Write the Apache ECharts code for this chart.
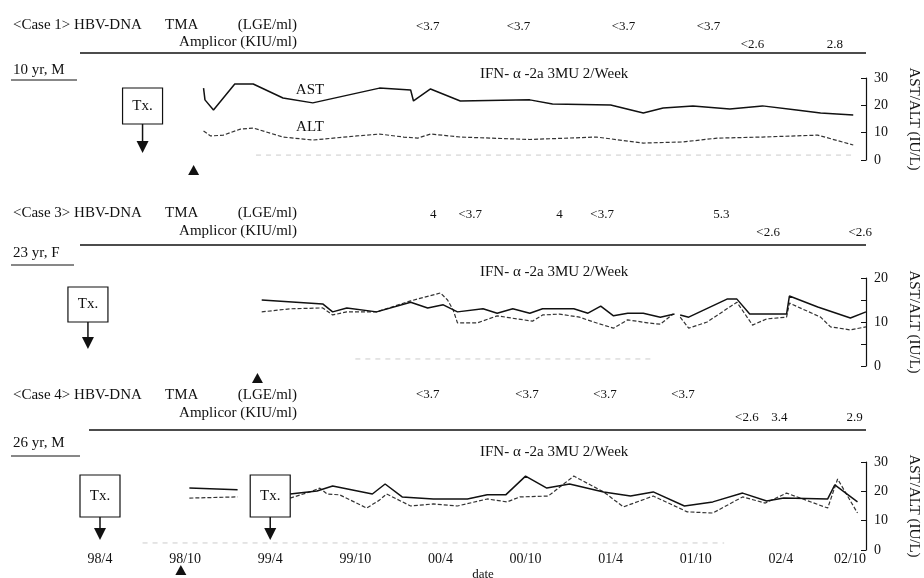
<!DOCTYPE html>
<html>
<head>
<meta charset="utf-8">
<script src="https://cdn.jsdelivr.net/npm/echarts@6/dist/echarts.min.js"></script>
<style>
  html, body { margin: 0; background: #fff; }
  #chart { width: 924px; height: 578px; }
</style>
</head>
<body>
<div id="chart"></div>
<script>
// months counted from 98/4
const xTicks = ['98/4', '98/10', '99/4', '99/10', '00/4', '00/10', '01/4', '01/10', '02/4', '02/10'];

// Case 1
const case1Ast = [[7.3, 26.3], [7.4, 22.0], [8.0, 18.3], [9.5, 27.8], [10.8, 27.8], [12.9, 22.7], [15.0, 20.9],
  [19.7, 26.3], [21.9, 25.6], [22.1, 21.6], [23.3, 26.0], [25.4, 21.6], [30.3, 22.0], [31.9, 20.5], [36.0, 20.1],
  [38.3, 17.2], [39.7, 19.0], [41.8, 19.8], [44.4, 18.7], [46.7, 19.8], [49.1, 18.3], [50.8, 17.2], [53.1, 16.5]];
const case1Alt = [[7.3, 10.6], [7.8, 8.8], [8.7, 9.1], [9.9, 11.3], [10.8, 11.7], [12.9, 8.4], [15.0, 7.3],
  [18.1, 8.8], [19.7, 9.5], [21.4, 8.4], [22.4, 8.0], [23.3, 9.5], [25.4, 8.4], [30.3, 7.5], [35.0, 8.4],
  [38.3, 6.2], [41.1, 6.6], [43.5, 8.0], [46.7, 8.4], [50.6, 9.1], [53.1, 5.5]];
const case1Base = [[11, 1.8], [53.2, 1.8]];
const case1Tma = [[23.1, '<3.7'], [29.5, '<3.7'], [36.9, '<3.7'], [42.9, '<3.7']];
const case1Amp = [[46.0, '<2.6'], [51.8, '2.8']];
const case1Tx = [3.0];
const case1Mark = [6.6];

// Case 3
const case3Ast = [[11.4, 15.0], [15.7, 14.1], [16.4, 12.3], [17.4, 13.2], [19.5, 12.3], [21.9, 14.5], [23.1, 13.2],
  [24.2, 13.9], [25.2, 12.3], [27.0, 13.0], [28.0, 12.0], [29.1, 13.0], [30.3, 12.0], [31.2, 13.0], [33.4, 13.0],
  [34.4, 12.0], [35.3, 13.6], [36.2, 11.4], [37.2, 12.0], [38.3, 12.0], [39.5, 11.1], [40.5, 11.8], [40.7, null],
  [40.9, 11.6], [41.5, 11.1], [44.2, 15.2], [44.9, 15.2], [45.8, 11.8], [48.4, 11.8], [48.6, 15.9], [50.6, 13.4],
  [52.9, 10.9], [54, 12.3]];
const case3Alt = [[11.4, 12.3], [13.4, 13.0], [15.7, 13.2], [16.4, 11.6], [17.4, 12.3], [19.5, 12.3], [21.9, 14.8],
  [24.0, 16.6], [24.5, 15.0], [24.9, 12.7], [25.2, 9.8], [26.6, 9.8], [28.0, 11.4], [29.4, 10.7], [30.5, 10.2],
  [31.2, 11.6], [32.4, 11.8], [33.8, 11.1], [34.8, 10.0], [36.2, 8.6], [37.2, 10.5], [38.6, 9.8], [39.5, 9.5],
  [40.4, 11.8], [40.7, null], [40.9, 11.1], [41.5, 8.6], [42.8, 10.0], [44.9, 14.5], [46.0, 9.3], [47.0, 10.7],
  [48.4, 11.1], [48.6, 14.3], [50.8, 11.1], [51.5, 8.9], [52.9, 8.2], [54, 8.9]];
const case3Base = [[18, 1.6], [39, 1.6]];
const case3Tma = [[23.5, '4'], [26.1, '<3.7'], [32.4, '4'], [35.4, '<3.7'], [43.8, '5.3']];
const case3Amp = [[47.1, '<2.6'], [53.6, '<2.6']];
const case3Tx = [-0.85];
const case3Mark = [11.1];

// Case 4
const case4Ast = [[6.3, 21.1], [9.7, 20.5], [11, null], [13.4, 19.1], [15.3, 20.1], [16.4, 21.8], [19.2, 19.1],
  [20.1, 22.5], [21.3, 18.1], [23.5, 17.4], [25.9, 17.4], [27.3, 18.8], [28.6, 18.8], [30.0, 25.2], [31.5, 21.1],
  [33.1, 22.5], [35.5, 19.8], [37.4, 18.4], [39.0, 19.8], [41.2, 15.0], [43.2, 16.4], [45.3, 19.4], [47.0, 16.7],
  [48.2, 17.7], [51.3, 17.4], [51.8, 22.2], [53.4, 16.4]];
const case4Alt = [[6.3, 17.7], [9.7, 18.1], [11, null], [13.4, 17.7], [14.8, 19.8], [15.5, 21.1], [16.0, 19.1],
  [16.9, 18.8], [18.8, 14.3], [19.7, 17.0], [20.2, 19.1], [21.9, 15.0], [23.5, 15.7], [25.2, 15.0], [27.3, 17.4],
  [28.7, 16.4], [29.6, 18.1], [31.6, 18.4], [33.4, 25.2], [35.5, 19.8], [36.9, 14.7], [39.0, 18.4], [41.4, 13.0],
  [43.2, 12.6], [45.3, 18.1], [46.9, 16.0], [48.4, 19.4], [51.3, 14.3], [52.0, 24.2], [53.4, 12.6]];
const case4Base = [[3, 2.4], [44, 2.4]];
const case4Tma = [[23.1, '<3.7'], [30.1, '<3.7'], [35.6, '<3.7'], [41.1, '<3.7']];
const case4Amp = [[45.6, '<2.6'], [47.9, '3.4'], [53.2, '2.9']];
const case4Tx = [0, 12];
const case4Mark = [5.7];

const serif = '"Liberation Serif", "DejaVu Serif", serif';
const ink = '#111';

const chart = echarts.init(document.getElementById('chart'));

const grids = [
  { left: 100, width: 766, top: 78, height: 82, outerBoundsMode: 'none', containLabel: false },
  { left: 100, width: 766, top: 278, height: 88, outerBoundsMode: 'none', containLabel: false },
  { left: 100, width: 766, top: 462, height: 88, outerBoundsMode: 'none', containLabel: false }
];
const yMax = [30, 20, 30];
const yStep = [10, 5, 10];

function lineSeries(gi, data, kind) {
  const styles = {
    ast: { color: ink, width: 1.5, type: 'solid' },
    alt: { color: '#333', width: 1.2, type: [4, 2] },
    base: { color: '#aaa', width: 1, type: [5, 5], opacity: 0.6 }
  };
  return {
    type: 'line', xAxisIndex: gi, yAxisIndex: gi, data: data,
    showSymbol: false, symbol: 'none', connectNulls: false, silent: true,
    lineStyle: styles[kind], z: kind === 'ast' ? 4 : 3
  };
}

chart.setOption({
  animation: false,
  grid: grids,
  xAxis: [0, 1, 2].map(i => ({
    gridIndex: i, type: 'value', min: 0, max: 54, interval: 6, show: i === 2,
    axisLine: { show: false, onZero: false }, axisTick: { show: false }, splitLine: { show: false },
    axisLabel: {
      formatter: v => xTicks[Math.round(v / 6)], fontFamily: serif, fontSize: 14, color: ink,
      margin: 2, alignMaxLabel: 'right'
    },
    name: i === 2 ? 'date' : '', nameLocation: 'middle', nameGap: 18,
    nameTextStyle: { fontFamily: serif, fontSize: 13, color: ink }
  })),
  yAxis: [0, 1, 2].map(i => ({
    gridIndex: i, type: 'value', position: 'right', min: 0, max: yMax[i], interval: yStep[i],
    axisLine: { show: true, onZero: false, lineStyle: { color: ink, width: 1.2 } },
    axisTick: { show: true, inside: true, length: 5, lineStyle: { color: ink } },
    splitLine: { show: false },
    axisLabel: {
      formatter: v => (v % 10 === 0 ? String(v) : ''), fontFamily: serif, fontSize: 14, color: ink, margin: 8
    },
    name: 'AST/ALT (IU/L)', nameLocation: 'middle', nameRotate: -90, nameGap: 40,
    nameTextStyle: { fontFamily: serif, fontSize: 15, color: ink }
  })),
  series: [
    lineSeries(0, case1Base, 'base'), lineSeries(0, case1Alt, 'alt'), lineSeries(0, case1Ast, 'ast'),
    lineSeries(1, case3Base, 'base'), lineSeries(1, case3Alt, 'alt'), lineSeries(1, case3Ast, 'ast'),
    lineSeries(2, case4Base, 'base'), lineSeries(2, case4Alt, 'alt'), lineSeries(2, case4Ast, 'ast')
  ]
});

// annotations
function txt(text, x, y, size, align) {
  return {
    type: 'text', z: 100, silent: true,
    style: { text: text, x: x, y: y, fill: ink, font: size + 'px ' + serif, textAlign: align || 'left', textVerticalAlign: 'middle' }
  };
}
function hline(x1, x2, y, w) {
  return { type: 'line', z: 100, silent: true, shape: { x1: x1, y1: y, x2: x2, y2: y }, style: { stroke: ink, lineWidth: w || 1.2 } };
}
function txBox(x, top, bottom, tip) {
  return [
    { type: 'rect', z: 100, silent: true, shape: { x: x - 20, y: top, width: 40, height: bottom - top },
      style: { fill: '#fff', stroke: ink, lineWidth: 1.2 } },
    txt('Tx.', x, (top + bottom) / 2, 15, 'center'),
    { type: 'line', z: 100, silent: true, shape: { x1: x, y1: bottom, x2: x, y2: tip - 10 }, style: { stroke: ink, lineWidth: 1.5 } },
    { type: 'polygon', z: 100, silent: true, shape: { points: [[x - 6, tip - 12], [x + 6, tip - 12], [x, tip]] }, style: { fill: ink } }
  ];
}
function mark(x, apex, base) {
  return { type: 'polygon', z: 100, silent: true, shape: { points: [[x, apex], [x - 5.5, base], [x + 5.5, base]] }, style: { fill: ink } };
}
const px = (gi, m) => chart.convertToPixel({ xAxisIndex: gi }, m);

const cases = [
  { name: '<Case 1> HBV-DNA', who: '10 yr, M', tma: case1Tma, amp: case1Amp, tx: case1Tx, mk: case1Mark,
    rowY: 25, ampY: 42, valY: 27, ampValY: 45, lineY: 53, lineX: 80, whoY: 70, whoLine: 80, whoW: 77,
    ifnY: 74, box: [88, 124, 153], mkY: [165, 175] },
  { name: '<Case 3> HBV-DNA', who: '23 yr, F', tma: case3Tma, amp: case3Amp, tx: case3Tx, mk: case3Mark,
    rowY: 213, ampY: 231, valY: 215, ampValY: 233, lineY: 245, lineX: 80, whoY: 253, whoLine: 265, whoW: 74,
    ifnY: 272, box: [287, 322, 349], mkY: [373, 383] },
  { name: '<Case 4> HBV-DNA', who: '26 yr, M', tma: case4Tma, amp: case4Amp, tx: case4Tx, mk: case4Mark,
    rowY: 395, ampY: 413, valY: 395, ampValY: 418, lineY: 430, lineX: 89, whoY: 443, whoLine: 456, whoW: 80,
    ifnY: 452, box: [475, 517, 540], mkY: [565, 575] }
];

const graphics = [];
cases.forEach((c, gi) => {
  graphics.push(txt(c.name, 13, c.rowY, 15));
  graphics.push(txt('TMA', 165, c.rowY, 15));
  graphics.push(txt('(LGE/ml)', 297, c.rowY, 15, 'right'));
  graphics.push(txt('Amplicor (KIU/ml)', 297, c.ampY, 15, 'right'));
  graphics.push(hline(c.lineX, 866, c.lineY, 1.3));
  graphics.push(txt(c.who, 13, c.whoY, 15));
  graphics.push(hline(11, c.whoW, c.whoLine, 1));
  graphics.push(txt('IFN- α -2a 3MU 2/Week', 480, c.ifnY, 15));
  c.tma.forEach(d => graphics.push(txt(d[1], px(gi, d[0]), c.valY, 13, 'center')));
  c.amp.forEach(d => graphics.push(txt(d[1], px(gi, d[0]), c.ampValY, 13, 'center')));
  c.tx.forEach(m => txBox(px(gi, m), c.box[0], c.box[1], c.box[2]).forEach(g => graphics.push(g)));
  c.mk.forEach(m => graphics.push(mark(px(gi, m), c.mkY[0], c.mkY[1])));
});
graphics.push(txt('AST', 310, 90, 15, 'center'));
graphics.push(txt('ALT', 310, 127, 15, 'center'));

chart.setOption({ graphic: graphics });
</script>
</body>
</html>
